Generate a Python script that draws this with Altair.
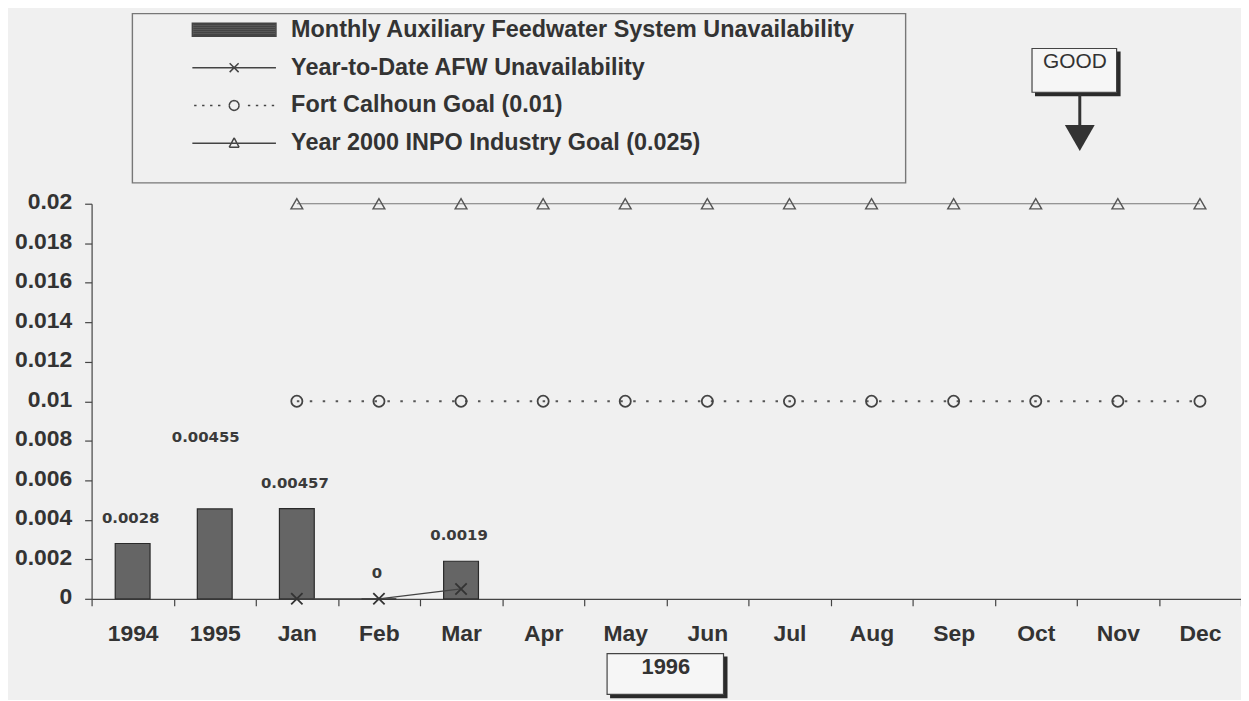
import math
import altair as alt
import pandas as pd

# ---------------- data ----------------
categories = ["1994", "1995", "Jan", "Feb", "Mar", "Apr", "May", "Jun",
              "Jul", "Aug", "Sep", "Oct", "Nov", "Dec"]
months = ["Jan", "Feb", "Mar", "Apr", "May", "Jun",
          "Jul", "Aug", "Sep", "Oct", "Nov", "Dec"]

bar_categories = ["1994", "1995", "Jan", "Feb", "Mar"]
bar_values = [0.0028, 0.00455, 0.00457, 0.0, 0.0019]

ytd_months = ["Jan", "Feb", "Mar"]
ytd_values = [0.0, 0.0, 0.0005]

fc_goal = [0.01, 0.01, 0.01, 0.01, 0.01, 0.01, 0.01, 0.01, 0.01, 0.01, 0.01, 0.01]
inpo_goal = [0.02, 0.02, 0.02, 0.02, 0.02, 0.02, 0.02, 0.02, 0.02, 0.02, 0.02, 0.02]

y_ticks = [0, 0.002, 0.004, 0.006, 0.008, 0.01, 0.012, 0.014, 0.016, 0.018, 0.02]

series_names = [
    "Monthly Auxiliary Feedwater System Unavailability",
    "Year-to-Date AFW Unavailability",
    "Fort Calhoun Goal (0.01)",
    "Year 2000 INPO Industry Goal (0.025)",
]

bars_df = pd.DataFrame({"cat": bar_categories, "value": bar_values})
ytd_df = pd.DataFrame({"cat": ytd_months, "value": ytd_values})
fc_df = pd.DataFrame({"cat": months, "value": fc_goal})
inpo_df = pd.DataFrame({"cat": months, "value": inpo_goal})
legend_df = pd.DataFrame({"series": series_names})

# ---------------- styles ----------------
FONT = "Liberation Sans"
BG = "#f0f0f0"
INK = "#333333"
W, H = 1155, 397


def seg_polygon(pts):
    out = ""
    for i in range(len(pts)):
        x1, y1 = pts[i]
        x2, y2 = pts[(i + 1) % len(pts)]
        out += f"M{x1:.3f},{y1:.3f}L{x2:.3f},{y2:.3f}"
    return out


circ_pts = [(0.5 * math.cos(math.radians(a)), 0.5 * math.sin(math.radians(a)))
            for a in range(0, 360, 30)]
dots = "".join(f"M{x - 0.12:.2f},0H{x + 0.12:.2f}"
               for x in (-3.9, -3.1, -2.3, -1.5, 1.5, 2.3, 3.1, 3.9))
swatch = "M-4.2,-0.65H4.2V0.65H-4.2Z" + "".join(
    f"M-4.1,{y / 10:.2f}H4.1" for y in range(-5, 6, 2))
legend_paths = [
    swatch,
    "M-4.2,0H4.2M-0.45,-0.45L0.45,0.45M-0.45,0.45L0.45,-0.45",
    dots + seg_polygon(circ_pts),
    "M-4.2,0H4.2" + seg_polygon([(0, -0.55), (0.5, 0.4), (-0.5, 0.4)]),
]
X_MARK = "M-1,-1L1,1M-1,1L1,-1"

x_enc = alt.X(
    "cat:N", sort=categories,
    scale=alt.Scale(domain=categories, paddingInner=0, paddingOuter=0),
    axis=alt.Axis(title=None, labelAngle=0, tickBand="extent", tickSize=7,
                  labelPadding=17, labelFont=FONT, labelFontSize=23,
                  labelFontWeight="bold", labelColor=INK, domainColor="#444",
                  tickColor="#444", domainWidth=1.2, tickWidth=1.2, grid=False),
)
y_enc = alt.Y(
    "value:Q",
    scale=alt.Scale(domain=[0, 0.02], nice=False, zero=True),
    axis=alt.Axis(title=None, values=y_ticks, format="~g", tickSize=7,
                  labelPadding=13, labelOffset=-2, labelFont=FONT,
                  labelFontSize=23, labelFontWeight="bold", labelColor=INK,
                  domainColor="#444", tickColor="#444", domainWidth=1.2,
                  tickWidth=1.2, grid=False),
)

one = alt.Data(values=[{"k": 0}])

# legend frame
frame = alt.Chart(one).mark_rect(fill="transparent", stroke="#777", strokeWidth=1.4).encode(
    x=alt.value(41), x2=alt.value(818), y=alt.value(-191), y2=alt.value(-21))

bars = alt.Chart(bars_df).mark_bar(size=35, fill="#656565", stroke="#2a2a2a", strokeWidth=1.2).encode(
    x=x_enc, y=y_enc)

lab_style = dict(font="DejaVu Sans", fontSize=15, fontWeight="bold", color="#3a3a3a", baseline="middle")
labels_a = alt.Chart(bars_df).transform_filter("datum.cat != '1995'").mark_text(
    dy=-26, dx=-2, **lab_style).encode(x=x_enc, y=y_enc, text=alt.Text("value:Q", format="~g"))
labels_b = alt.Chart(bars_df).transform_filter("datum.cat == '1995'").mark_text(
    dy=-72, dx=-9, **lab_style).encode(x=x_enc, y=y_enc, text=alt.Text("value:Q", format="~g"))

fc_line = alt.Chart(fc_df).mark_line(color="#555", strokeWidth=2.2, strokeDash=[2.5, 10.5]).encode(x=x_enc, y=y_enc)
fc_pts = alt.Chart(fc_df).mark_point(shape="circle", size=125, filled=False, color="#444", strokeWidth=1.8, opacity=1).encode(x=x_enc, y=y_enc)

inpo_line = alt.Chart(inpo_df).mark_line(color="#777", strokeWidth=1.2).encode(x=x_enc, y=y_enc)
inpo_pts = alt.Chart(inpo_df).mark_point(shape="triangle-up", size=140, filled=False, color="#555", strokeWidth=1.4, opacity=1).encode(x=x_enc, y=y_enc)

ytd_line = alt.Chart(ytd_df).mark_line(color="#444", strokeWidth=1.3).encode(x=x_enc, y=y_enc)
ytd_pts = alt.Chart(ytd_df).mark_point(shape=X_MARK, size=130, filled=False, color="#333", strokeWidth=1.8, opacity=1).encode(x=x_enc, y=y_enc)

# GOOD annotation
good_shadow = alt.Chart(one).mark_rect(fill="#2a2a2a").encode(
    x=alt.value(948), x2=alt.value(1034), y=alt.value(-153), y2=alt.value(-108))
good_box = alt.Chart(one).mark_rect(fill="#f6f6f6", stroke="#444", strokeWidth=1.2).encode(
    x=alt.value(945), x2=alt.value(1030), y=alt.value(-156), y2=alt.value(-112))
good_text = alt.Chart(one).mark_text(font=FONT, fontSize=21, color=INK, baseline="middle").encode(
    x=alt.value(988), y=alt.value(-142), text=alt.value("GOOD"))
arrow_line = alt.Chart(one).mark_rule(color="#333", strokeWidth=3).encode(
    x=alt.value(993), y=alt.value(-110), y2=alt.value(-78))
arrow_head = alt.Chart(one).mark_point(shape="triangle-down", size=900, filled=True, color="#333", opacity=1).encode(
    x=alt.value(993), y=alt.value(-66))

# 1996 annotation
yr_shadow = alt.Chart(one).mark_rect(fill="#2a2a2a").encode(
    x=alt.value(521), x2=alt.value(639), y=alt.value(455), y2=alt.value(497))
yr_box = alt.Chart(one).mark_rect(fill="#f6f6f6", stroke="#444", strokeWidth=1.2).encode(
    x=alt.value(518), x2=alt.value(635), y=alt.value(452), y2=alt.value(493))
yr_text = alt.Chart(one).mark_text(font=FONT, fontSize=22, fontWeight="bold", color=INK, baseline="middle").encode(
    x=alt.value(577), y=alt.value(466), text=alt.value("1996"))

# legend (driven by a shape scale, no visible marks)
legend_layer = alt.Chart(legend_df).transform_filter("false").mark_point(
    filled=False, fill="#6b6b6b", color="#444", strokeWidth=1.5, opacity=1
).encode(
    shape=alt.Shape(
        "series:N", sort=series_names,
        scale=alt.Scale(domain=series_names, range=legend_paths),
        legend=alt.Legend(
            title=None, orient="none", legendX=131.5, legendY=-186.5,
            direction="vertical", padding=0, symbolSize=400,
            symbolStrokeWidth=1.5, symbolOffset=0, labelOffset=45.5,
            rowPadding=13, labelFont=FONT, labelFontSize=23.5,
            labelFontWeight="bold", labelColor=INK, labelLimit=900,
        ),
    )
)

chart = alt.layer(
    frame, bars, labels_a, labels_b, fc_line, fc_pts, inpo_line, inpo_pts,
    ytd_line, ytd_pts, good_shadow, good_box, good_text, arrow_line, arrow_head,
    yr_shadow, yr_box, yr_text, legend_layer,
).properties(
    width=W, height=H,
    autosize=alt.AutoSizeParams(type="none"),
    padding={"left": 84, "top": 195, "right": 0, "bottom": 100},
    background=BG,
).configure_view(stroke=None)

chart.save("out.html", embed_options={"renderer": "svg", "actions": False})
